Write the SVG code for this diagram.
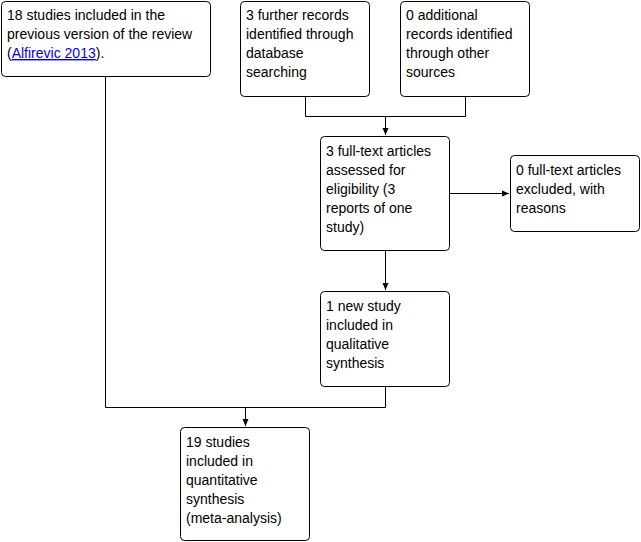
<svg xmlns="http://www.w3.org/2000/svg" width="641" height="542" viewBox="0 0 641 542">
<style>
.box{fill:#fff;stroke:#000;stroke-width:1}
.t{font-family:"Liberation Sans",Arial,sans-serif;font-size:14px;fill:#000}
.link{fill:#0000ee;text-decoration:underline}
.c{fill:none;stroke:#000;stroke-width:1}
</style>
<defs>
<marker id="ah" markerWidth="8" markerHeight="8" refX="7" refY="4" orient="auto" markerUnits="userSpaceOnUse">
<path d="M0,1 L7,4 L0,7 Z" fill="#000"/>
</marker>
</defs>
<g id="connectors">
<path class="c" d="M305.5,96 V116.5 H465.5 V96"/>
<path class="c" d="M385.5,116.5 V135" marker-end="url(#ah)"/>
<path class="c" d="M449,193.5 H509" marker-end="url(#ah)"/>
<path class="c" d="M385.5,250 V290" marker-end="url(#ah)"/>
<path class="c" d="M105.5,76 V407.5 H385.5 V386"/>
<path class="c" d="M245.5,407.5 V426" marker-end="url(#ah)"/>
</g>
<g id="prev">
<rect class="box" x="1.5" y="1.5" width="209" height="75" rx="4"/>
<text class="t" x="7" y="20">18 studies included in the</text>
<text class="t" x="7" y="39">previous version of the review</text>
<text class="t" x="7" y="58">(<tspan class="link">Alfirevic 2013</tspan>).</text>
</g>
<g id="db">
<rect class="box" x="240.5" y="1.5" width="129" height="95" rx="4"/>
<text class="t" x="246" y="20">3 further records</text>
<text class="t" x="246" y="39">identified through</text>
<text class="t" x="246" y="58">database</text>
<text class="t" x="246" y="77">searching</text>
</g>
<g id="other">
<rect class="box" x="400.5" y="1.5" width="129" height="95" rx="4"/>
<text class="t" x="406" y="20">0 additional</text>
<text class="t" x="406" y="39">records identified</text>
<text class="t" x="406" y="58">through other</text>
<text class="t" x="406" y="77">sources</text>
</g>
<g id="assessed">
<rect class="box" x="320.5" y="136.5" width="129" height="114" rx="4"/>
<text class="t" x="326" y="156">3 full-text articles</text>
<text class="t" x="326" y="175">assessed for</text>
<text class="t" x="326" y="194">eligibility (3</text>
<text class="t" x="326" y="213">reports of one</text>
<text class="t" x="326" y="232">study)</text>
</g>
<g id="excluded">
<rect class="box" x="510.5" y="155.5" width="129" height="76" rx="4"/>
<text class="t" x="516" y="175">0 full-text articles</text>
<text class="t" x="516" y="194">excluded, with</text>
<text class="t" x="516" y="213">reasons</text>
</g>
<g id="qualitative">
<rect class="box" x="320.5" y="291.5" width="129" height="95" rx="4"/>
<text class="t" x="326" y="311">1 new study</text>
<text class="t" x="326" y="330">included in</text>
<text class="t" x="326" y="349">qualitative</text>
<text class="t" x="326" y="368">synthesis</text>
</g>
<g id="quantitative">
<rect class="box" x="180.5" y="427.5" width="129" height="113" rx="4"/>
<text class="t" x="186" y="447">19 studies</text>
<text class="t" x="186" y="466">included in</text>
<text class="t" x="186" y="485">quantitative</text>
<text class="t" x="186" y="504">synthesis</text>
<text class="t" x="186" y="523">(meta-analysis)</text>
</g>
</svg>
